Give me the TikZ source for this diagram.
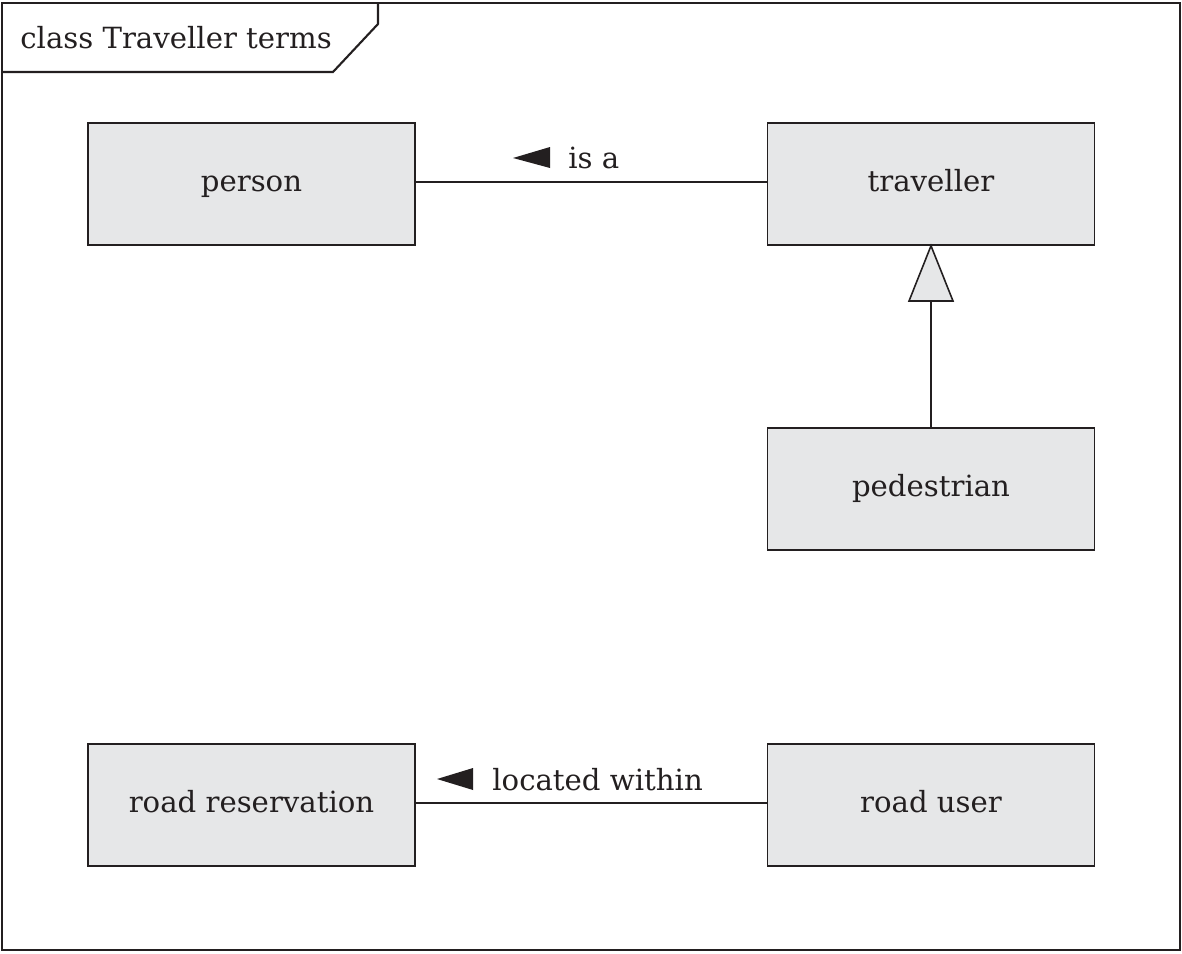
\documentclass[tikz,border=0pt]{standalone}
\usepackage{fontspec}
\setmainfont{DejaVu Serif}
\usepackage{tikz}
\definecolor{boxgray}{HTML}{E6E7E8}
\definecolor{ink}{HTML}{231F20}

\begin{document}
\begin{tikzpicture}[x=0.02cm,y=-0.02cm,
	term/.style={draw=ink,line width=0.9pt,fill=boxgray,text=ink,minimum width=6.54cm,minimum height=2.44cm,inner sep=0pt,text height=2.6ex,text depth=0.9ex,font=\fontsize{16.6}{20}\selectfont},
	assoc/.style={draw=ink,line width=0.8pt},
	rolename/.style={text=ink,anchor=base west,inner sep=0pt,font=\fontsize{16.6}{20}\selectfont}]
	\useasboundingbox (0,0) rectangle (1182,953);
	% frame
	\draw[ink,line width=1.2pt] (2,3) rectangle (1180,950);
	\draw[ink,line width=1.2pt] (2,72) -- (333,72) -- (378,24) -- (378,3);
	\node[rolename] (title) at (20,49) {class Traveller terms};
	% terms
	\node[term] (person) at (251.5,184) {person};
	\node[term] (traveller) at (931,184) {traveller};
	\node[term] (pedestrian) at (931,489) {pedestrian};
	\node[term] (roadres) at (251.5,805) {road reservation};
	\node[term] (roaduser) at (931,805) {road user};
	% associations
	\draw[assoc] ([yshift=0.04cm]person.east) -- ([yshift=0.04cm]traveller.west);
	\fill[ink] (550,147) -- (550,168) -- (513,158) -- cycle;
	\node[rolename] (isa) at (568,168) {is a};
	\draw[assoc] ([yshift=0.04cm]roadres.east) -- ([yshift=0.04cm]roaduser.west);
	\fill[ink] (473,768) -- (473,790) -- (437,779) -- cycle;
	\node[rolename] (within) at (492,790) {located within};
	% generalization
	\coordinate (gbase) at (931,301);
	\draw[assoc] (pedestrian.north) -- (gbase);
	\draw[ink,line width=0.9pt,fill=boxgray] (traveller.south) -- (953,301) -- (909,301) -- cycle;
\end{tikzpicture}
\end{document}
